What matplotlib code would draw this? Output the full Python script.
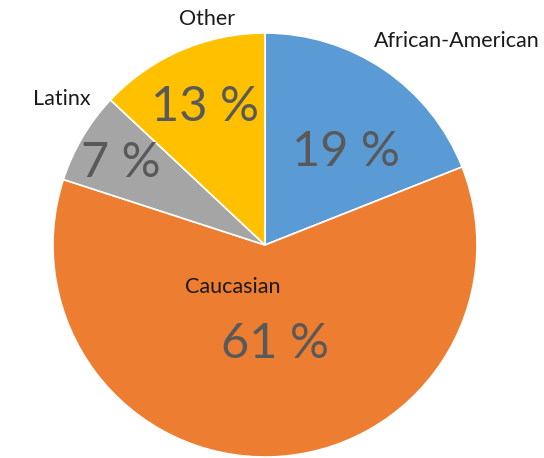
import numpy as np
import matplotlib
matplotlib.use('Agg')
import matplotlib.pyplot as plt

# Data
groups = ['African-American', 'Caucasian', 'Latinx', 'Other']
shares = [19, 61, 7, 13]
colors = ['#5B9BD5', '#ED7D31', '#A5A5A5', '#FFC000']

# label placement: (radius, angle shift in degrees from wedge middle)
name_pos = [(1.32, -9), (0.25, -39), (1.18, -5), (1.10, -9)]
pct_pos = [(0.58, -7), (0.47, 4), (0.78, 1), (0.71, 0)]

plt.rcParams['font.family'] = ['Lato', 'DejaVu Sans']

fig = plt.figure(figsize=(5.44, 4.58), dpi=100)
ax = fig.add_axes([0, 0, 1, 1])

wedges, _ = ax.pie(shares, colors=colors, startangle=90, counterclock=False,
                   wedgeprops=dict(edgecolor='white', linewidth=1.2))

for w, name, val, (rn, an), (rp, ap) in zip(wedges, groups, shares, name_pos, pct_pos):
    mid = (w.theta1 + w.theta2) / 2
    a = np.deg2rad(mid + an)
    ax.text(rn * np.cos(a), rn * np.sin(a), name, ha='center', va='center',
            fontsize=15.5, color='#1a1a1a')
    a = np.deg2rad(mid + ap)
    ax.text(rp * np.cos(a), rp * np.sin(a), f'{val} %', ha='center', va='center',
            fontsize=35, color='#595959')

ax.set_xlim(-265 / 212, (544 - 265) / 212)
ax.set_ylim(-(458 - 245) / 212, 245 / 212)
ax.set_aspect('equal')
ax.axis('off')

fig.savefig('out.png', dpi=100)
